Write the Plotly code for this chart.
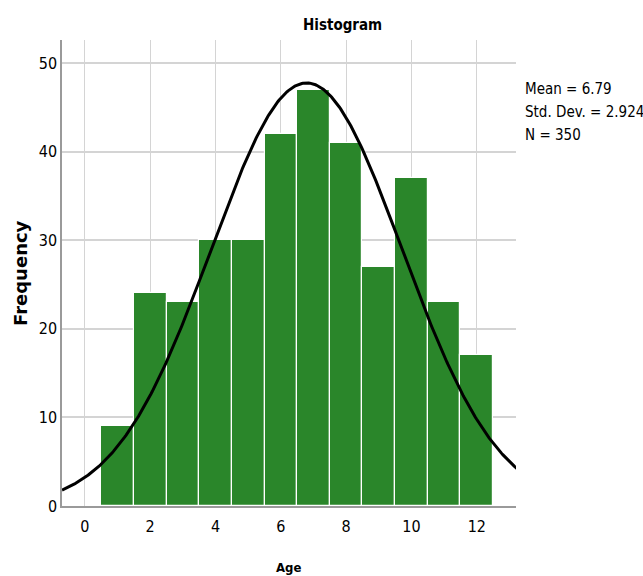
import numpy as np
import plotly.graph_objects as go

ages = [1, 2, 3, 4, 5, 6, 7, 8, 9, 10, 11, 12]
freq = [9, 24, 23, 30, 30, 42, 47, 41, 27, 37, 23, 17]
mean_val = 6.79
sd_val = 2.924
n_val = 350
x_ticks = [0, 2, 4, 6, 8, 10, 12]
y_ticks = [0, 10, 20, 30, 40, 50]
stats_lines = [f"Mean = {mean_val}", f"Std. Dev. = {sd_val}", f"N = {n_val}"]

narrow = "DejaVu Sans Condensed, Liberation Sans Narrow, Arial Narrow, sans-serif"

L, R, T, B = 62, 127, 40, 70
W, H = 643, 576
pw = W - L - R
ph = H - T - B


def px(x):
    return (x - L) / pw


def py(y):
    return 1 - (y - T) / ph


xc = np.linspace(-0.7, 13.25, 400)
yc = n_val * 1.0 / (sd_val * np.sqrt(2 * np.pi)) * np.exp(-0.5 * ((xc - mean_val) / sd_val) ** 2)

fig = go.Figure()
fig.add_trace(go.Bar(x=ages, y=freq, width=1, marker=dict(color="#2a862a", line=dict(color="white", width=1.2)),
                     showlegend=False, hoverinfo="x+y"))
fig.add_trace(go.Scatter(x=xc, y=yc, mode="lines", line=dict(color="black", width=3), showlegend=False))

annotations = [
    dict(x=px(342), y=py(25), text="<b>Histogram</b>", font=dict(family=narrow, size=15, color="black")),
    dict(x=px(288), y=py(567), text="<b>Age</b>", font=dict(family=narrow, size=13, color="black")),
    dict(x=px(20), y=py(273), text="<b>Frequency</b>", textangle=-90,
         font=dict(family="DejaVu Sans, sans-serif", size=18, color="black")),
]
for line, yy in zip(stats_lines, [89, 112, 135]):
    annotations.append(dict(x=px(523), y=py(yy), text=line, xanchor="left",
                            font=dict(family=narrow, size=15, color="black")))
for a in annotations:
    a.setdefault("xanchor", "center")
    a.update(xref="paper", yref="paper", yanchor="middle", showarrow=False)

fig.update_layout(
    width=W, height=H,
    margin=dict(l=L, r=R, t=T, b=B, autoexpand=False),
    plot_bgcolor="white", paper_bgcolor="white",
    bargap=0,
    xaxis=dict(range=[-0.7, 13.2], tickvals=x_ticks, showgrid=True, gridcolor="#d4d4d4", gridwidth=1,
               showline=True, linecolor="#9a9a9a", linewidth=1.5, zeroline=False, ticks="", automargin=False,
               ticklabelstandoff=5,
               tickfont=dict(family=narrow, size=16, color="black")),
    yaxis=dict(range=[0, 52.6], tickvals=y_ticks, showgrid=True, gridcolor="#d4d4d4", gridwidth=1.5,
               showline=True, linecolor="#9a9a9a", linewidth=1.5, zeroline=False, ticks="", automargin=False,
               tickfont=dict(family=narrow, size=16, color="black")),
    annotations=annotations,
)

fig.write_html("out.html", config={"displayModeBar": False},
               post_script="document.body.style.margin='0';")
